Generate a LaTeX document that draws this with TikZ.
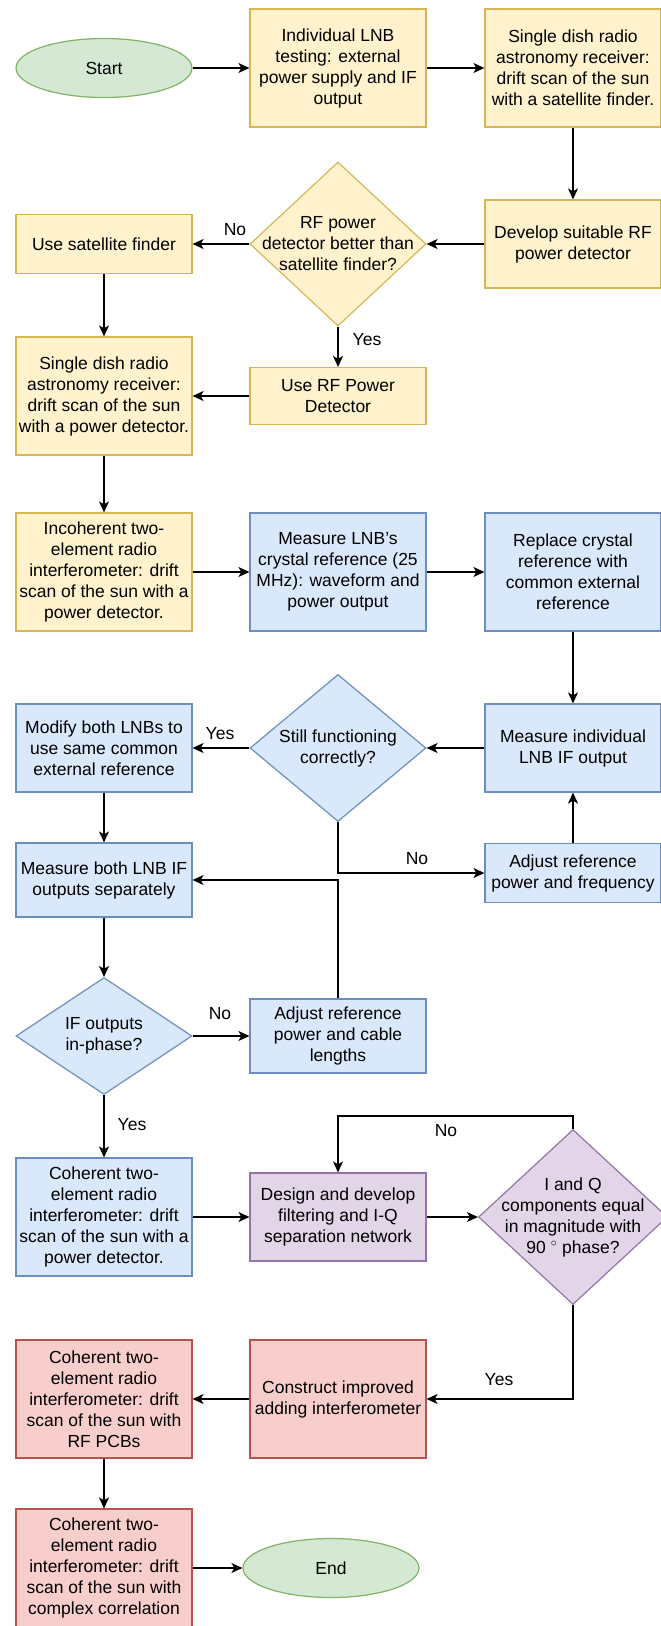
\documentclass[tikz,border=0pt]{standalone}
\usepackage{fontspec}
\setmainfont{Liberation Sans}
\usetikzlibrary{shapes.geometric,arrows.meta}

\begin{document}
\begin{tikzpicture}[x=1pt,y=-1pt,font=\fontsize{17.5}{21}\selectfont,
  box/.style={rectangle,line width=1.2pt,minimum width=176pt,inner sep=2pt,align=center},
  decision/.style={diamond,line width=1.2pt,inner sep=0pt},
  terminal/.style={ellipse,line width=1.2pt,draw=grnline,fill=grnfill,minimum width=176pt,minimum height=59pt},
  tall/.style={minimum height=118pt},
  mid/.style={minimum height=88pt},
  low/.style={minimum height=59pt},
  yel/.style={draw=yelline,fill=yelfill},
  blu/.style={draw=bluline,fill=blufill},
  pur/.style={draw=purline,fill=purfill},
  rd/.style={draw=redline,fill=redfill},
  lbl/.style={inner sep=0pt},
  flow/.style={line width=1.3pt,-{Stealth[length=11pt,width=10pt,inset=3pt]}}]
\definecolor{yelfill}{HTML}{FFF2CC}
\definecolor{yelline}{HTML}{D6B656}
\definecolor{blufill}{HTML}{DAE8FC}
\definecolor{bluline}{HTML}{6C8EBF}
\definecolor{grnfill}{HTML}{D5E8D4}
\definecolor{grnline}{HTML}{82B366}
\definecolor{purfill}{HTML}{E1D5E7}
\definecolor{purline}{HTML}{9673A6}
\definecolor{redfill}{HTML}{F8CECC}
\definecolor{redline}{HTML}{B85450}
\useasboundingbox (0,0) rectangle (661,1626);
% yellow stage
\node[terminal] (start) at (104,68) {Start};
\node[box,tall,yel] (lnbtest) at (338,68) {Individual LNB\\testing: external\\power supply and IF\\output};
\node[box,tall,yel] (satscan) at (573,68) {Single dish radio\\astronomy receiver:\\drift scan of the sun\\with a satellite finder.};
\node[box,mid,yel] (develop) at (573,244) {Develop suitable RF\\power detector};
\node[decision,yel,minimum width=176pt,minimum height=164pt,
  label={[align=center]center:RF power\\detector better than\\satellite finder?}] (rfbetter) at (338,244) {};
\node[box,low,yel] (usesat) at (104,244) {Use satellite finder};
\node[box,minimum height=57pt,yel] (userf) at (338,396) {Use RF Power\\Detector};
\node[box,tall,yel] (dishpow) at (104,396) {Single dish radio\\astronomy receiver:\\drift scan of the sun\\with a power detector.};
\node[box,tall,yel] (incoh) at (104,572) {Incoherent two-\\element radio\\interferometer: drift\\scan of the sun with a\\power detector.};
% blue stage
\node[box,tall,blu] (crystal) at (338,572) {Measure LNB's\\crystal reference (25\\MHz): waveform and\\power output};
\node[box,tall,blu] (replace) at (573,572) {Replace crystal\\reference with\\common external\\reference};
\node[box,mid,blu] (measind) at (573,748) {Measure individual\\LNB IF output};
\node[decision,blu,minimum width=176pt,minimum height=147pt,
  label={[align=center]center:Still functioning\\correctly?}] (still) at (338,748) {};
\node[box,mid,blu] (modify) at (104,748) {Modify both LNBs to\\use same common\\external reference};
\node[box,low,blu] (adjfreq) at (573,873) {Adjust reference\\power and frequency};
\node[box,minimum height=74pt,blu] (measboth) at (104,880) {Measure both LNB IF\\outputs separately};
\node[decision,blu,minimum width=176pt,minimum height=117pt,
  label={[align=center]center:IF outputs\\in-phase?}] (inphase) at (104,1036) {};
\node[box,minimum height=74pt,blu] (adjcable) at (338,1036) {Adjust reference\\power and cable\\lengths};
\node[box,tall,blu] (coh) at (104,1217) {Coherent two-\\element radio\\interferometer: drift\\scan of the sun with a\\power detector.};
% purple stage
\node[box,mid,pur] (design) at (338,1217) {Design and develop\\filtering and I-Q\\separation network};
\node[decision,pur,minimum width=189pt,minimum height=175pt,
  label={[align=center]center:I and Q\\components equal\\in magnitude with\\90 $^\circ$ phase?}] (iq) at (573,1217) {};
% red stage
\node[box,tall,rd] (construct) at (338,1399) {Construct improved\\adding interferometer};
\node[box,tall,rd] (cohpcb) at (104,1399) {Coherent two-\\element radio\\interferometer: drift\\scan of the sun with\\RF PCBs};
\node[box,tall,rd] (cohcplx) at (104,1568) {Coherent two-\\element radio\\interferometer: drift\\scan of the sun with\\complex correlation};
\node[terminal] (finish) at (331,1568) {End};
% connectors
\foreach \src/\dst in {start/lnbtest,lnbtest/satscan,satscan/develop,develop/rfbetter,
  rfbetter/usesat,rfbetter/userf,usesat/dishpow,userf/dishpow,dishpow/incoh,
  incoh/crystal,crystal/replace,replace/measind,measind/still,still/modify,
  adjfreq/measind,modify/measboth,measboth/inphase,inphase/adjcable,inphase/coh,
  coh/design,design/iq,construct/cohpcb,cohpcb/cohcplx,cohcplx/finish}
  \draw[flow] (\src) -- (\dst);
\draw[flow] (still.south) |- (adjfreq.west);
\draw[flow] (adjcable.north) |- (measboth.east);
\coordinate (loopup) at (338,1116);
\draw[flow] (iq.north) |- (loopup) -- (design.north);
\draw[flow] (iq.south) |- (construct.east);
% branch labels
\node[lbl] (no1) at (235,230) {No};
\node[lbl] (yes1) at (367,340) {Yes};
\node[lbl] (yes2) at (220,734) {Yes};
\node[lbl] (no2) at (417,859) {No};
\node[lbl] (no3) at (220,1014) {No};
\node[lbl] (yes3) at (132,1125) {Yes};
\node[lbl] (no4) at (446,1131) {No};
\node[lbl] (yes4) at (499,1380) {Yes};
\end{tikzpicture}
\end{document}
